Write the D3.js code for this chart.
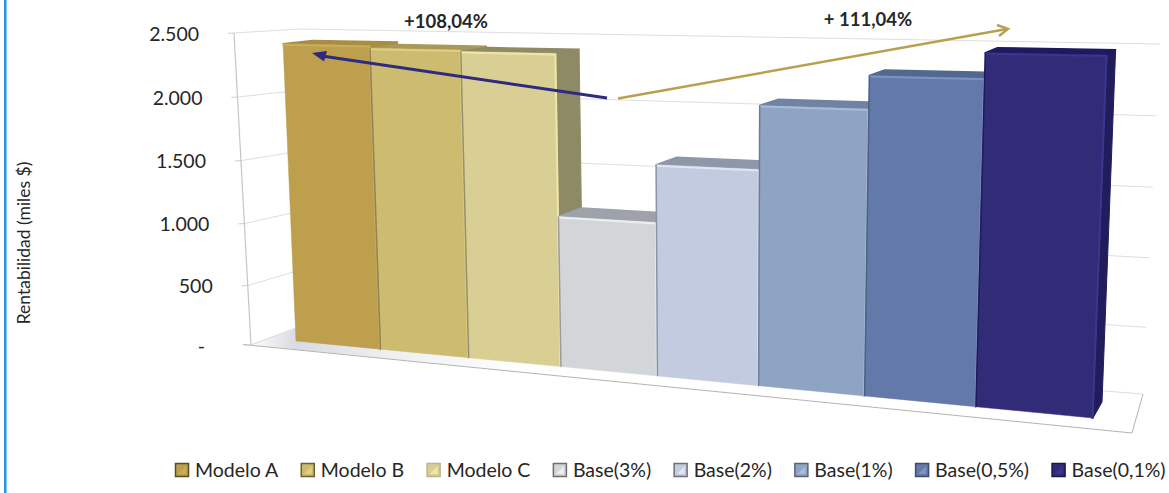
<!DOCTYPE html>
<html>
<head>
<meta charset="utf-8">
<script src="https://cdn.jsdelivr.net/npm/d3@7"></script>
<style>
  html, body { margin: 0; padding: 0; background: #fff; }
  svg { display: block; }
  text { font-family: Lato, "Open Sans", sans-serif; fill: #262626; }
</style>
</head>
<body>
<div id="chart"></div>
<script>
// Chart content
const categories = ["Modelo A", "Modelo B", "Modelo C", "Base(3%)", "Base(2%)", "Base(1%)", "Base(0,5%)", "Base(0,1%)"];
const values = [2400, 2380, 2370, 1154, 1580, 2035, 2265, 2435];
const tickValues = [0, 500, 1000, 1500, 2000, 2500];
const tickLabels = ["-", "500", "1.000", "1.500", "2.000", "2.500"];
const frontColors = ["#bd9f4e", "#cdbb6f", "#d9cf94", "#d3d6d8", "#c2cbdf", "#8fa3c2", "#6279a9", "#322c78"];
const topColors = ["#a88d44", "#a9985a", "#8f8a66", "#9ea2ab", "#8e97a8", "#6f83a3", "#52698f", "#1f1a60"];
const sideColors = ["#a88d44", "#a9985a", "#8f8a66", "#8d9097", "#8e97a8", "#6f83a3", "#52698f", "#211c5c"];
const lightEdges = ["#c9ae5c", "#e0cf7e", "#efe6a6", "#eceef0", "#dfe5f2", "#a9bbd6", "#7d93bf", "#3c358d"];
const darkEdges = ["#a38a45", "#8f8358", "#94906f", "#9a9c9c", "#8b93a6", "#6a7c98", "#4d6184", "#1f1a5c"];
const swatchEdges = ["#5b4c22", "#6a6233", "#b9b48a", "#6e6e6e", "#6e7078", "#5a6478", "#3f4d6a", "#1a1650"];
const axisTitle = "Rentabilidad (miles $)";
const leftNote = "+108,04%";
const rightNote = "+ 111,04%";

const W = 1169, H = 493;

// Domain scales: category slots across, profit upward, both normalised for the projection.
const slot = d3.scaleLinear().domain([0, categories.length]).range([0, 1]);
const profit = d3.scaleLinear().domain([0, 2500]).range([0, 1]);
// Walls recede slightly with height, so their ticks are spaced a little unevenly.
const wallProfit = d3.scalePow().exponent(1.03).domain([0, 2500]).range([0, 1]);

// Perspective map of the unit square on a quad given as [p00, p10, p11, p01].
function projective([p0, p1, p2, p3]) {
  const dx1 = p1[0] - p2[0], dx2 = p3[0] - p2[0], sx = p0[0] - p1[0] + p2[0] - p3[0];
  const dy1 = p1[1] - p2[1], dy2 = p3[1] - p2[1], sy = p0[1] - p1[1] + p2[1] - p3[1];
  const det = dx1 * dy2 - dx2 * dy1;
  const g = (sx * dy2 - dx2 * sy) / det;
  const h = (dx1 * sy - sx * dy1) / det;
  const a = p1[0] - p0[0] + g * p1[0], b = p3[0] - p0[0] + h * p3[0], c = p0[0];
  const d = p1[1] - p0[1] + g * p1[1], e = p3[1] - p0[1] + h * p3[1], f = p0[1];
  return (s, t) => {
    const w = g * s + h * t + 1;
    return [(a * s + b * t + c) / w, (d * s + e * t + f) / w];
  };
}

// Straight-edged map for the walls of the box.
function bilinear([p0, p1, p2, p3]) {
  return (s, t) => [0, 1].map(k =>
    (1 - t) * ((1 - s) * p0[k] + s * p1[k]) + t * ((1 - s) * p3[k] + s * p2[k]));
}

// Planes of the 3D box and of the bar block.
const barFront = projective([[296, 341], [1093, 418], [1107.4, 45], [282.5, 31]]);
const barBack = projective([[324, 330], [1102, 402], [1116, 40], [312, 28]]);
const backWall = bilinear([[296, 328], [1143, 394], [1160, 44], [300, 29]]);
const sideWall = bilinear([[251, 345], [296, 328], [300, 29], [234, 33]]);

const barPoint = (u, v, depth) => {
  const p = barFront(slot(u), profit(v)), q = barBack(slot(u), profit(v));
  return [p[0] + (q[0] - p[0]) * depth, p[1] + (q[1] - p[1]) * depth];
};
const poly = pts => "M" + pts.map(p => p.join(",")).join("L") + "Z";
const line = pts => "M" + pts.map(p => p.join(",")).join("L");

const svg = d3.select("#chart").append("svg").attr("width", W).attr("height", H);
const defs = svg.append("defs");

// Page frame on the left edge
svg.append("rect").attr("x", 4).attr("y", 0).attr("width", 2.5).attr("height", H).attr("fill", "#2094e6");

// Floor with a soft shadow around the first bar, fading out to the right
const floorFade = defs.append("linearGradient").attr("id", "floorFade")
  .attr("gradientUnits", "userSpaceOnUse").attr("x1", 250).attr("x2", 520).attr("y1", 0).attr("y2", 0);
[[0, "#ffffff"], [0.17, "#d9dae3"], [0.5, "#eeeef2"], [1, "#ffffff"]].forEach(([o, c]) =>
  floorFade.append("stop").attr("offset", o).attr("stop-color", c));
svg.append("path").attr("fill", "url(#floorFade)")
  .attr("d", poly([[251, 345], [1132, 433], [1143, 394], [296, 328]]));
svg.append("path").attr("fill", "none").attr("stroke", "#b4b4b0").attr("stroke-width", 1)
  .attr("d", line([[243, 344.5], [1132, 433], [1143, 394]]));
svg.append("path").attr("fill", "none").attr("stroke", "#e4e4e8").attr("stroke-width", 1)
  .attr("d", line([[251, 345], [296, 328]]));

// Gridlines run along the side wall and the back wall
const grid = svg.append("g").attr("fill", "none").attr("stroke", "#dedede").attr("stroke-width", 1);
tickValues.forEach(v => {
  const t = wallProfit(v);
  grid.append("path").attr("d", line([sideWall(0, t), sideWall(1, t)]));
  grid.append("path").attr("d", line([backWall(0, t), backWall(1, t)]));
  const a = sideWall(0, t);
  grid.append("path").attr("stroke", "#cfcfcf").attr("d", line([[a[0] - 6, a[1] + 0.3], a]));
});
svg.append("path").attr("fill", "none").attr("stroke", "#c6c6c6").attr("stroke-width", 1.2)
  .attr("d", line([sideWall(0, 1), sideWall(0, 0)]));

// Value axis labels follow the slanted front edge of the box
const yAxis = svg.append("g").attr("font-size", 19.5);
tickValues.forEach((v, i) => {
  const a = sideWall(0, wallProfit(v));
  yAxis.append("text")
    .attr("x", a[0] - (v === 0 ? 46 : 35))
    .attr("y", a[1] + 1)
    .attr("dy", "0.35em")
    .attr("text-anchor", "end")
    .text(tickLabels[i]);
});

svg.append("text")
  .attr("transform", "translate(24,243) rotate(-90)")
  .attr("text-anchor", "middle").attr("dy", "0.35em")
  .attr("font-size", 17.5)
  .text(axisTitle);

// Bars, painted from left to right so that each one covers the side of its neighbour
const bars = svg.append("g").selectAll("g").data(categories).join("g");
bars.each(function (name, i) {
  const g = d3.select(this), v = values[i];
  const fl = barPoint(i, v, 0), fr = barPoint(i + 1, v, 0);
  const bl = barPoint(i, v, 1), br = barPoint(i + 1, v, 1);
  const gl = barPoint(i, 0, 0), gr = barPoint(i + 1, 0, 0), gb = barPoint(i + 1, 0, 1);
  g.append("path").attr("d", poly([fr, br, gb, gr])).attr("fill", sideColors[i])
    .attr("stroke", sideColors[i]).attr("stroke-linejoin", "round");
  g.append("path").attr("d", poly([fl, bl, br, fr])).attr("fill", topColors[i])
    .attr("stroke", topColors[i]).attr("stroke-width", 1.5).attr("stroke-linejoin", "round");
  g.append("path").attr("d", poly([fl, fr, gr, gl])).attr("fill", frontColors[i])
    .attr("stroke", frontColors[i]).attr("stroke-width", 0.5);
  // Bevel highlights along the top and right edges, dark seam on the left
  g.append("path").attr("d", line([fl, fr, gr])).attr("fill", "none")
    .attr("stroke", lightEdges[i]).attr("stroke-width", 2).attr("transform", "translate(-0.5,1)");
  if (i > 0) {
    g.append("path").attr("d", line([fl, gl])).attr("fill", "none")
      .attr("stroke", darkEdges[i]).attr("stroke-width", 1.5);
  }
});

// Comparison arrows and their percentages
const navy = "#2e2a80", gold = "#b9a04f";
svg.append("line").attr("x1", 607).attr("y1", 98).attr("x2", 322).attr("y2", 56)
  .attr("stroke", navy).attr("stroke-width", 3);
svg.append("path").attr("fill", navy).attr("d", poly([[312, 53], [327, 51], [324, 61.5]]));
svg.append("line").attr("x1", 618).attr("y1", 98.5).attr("x2", 1007).attr("y2", 29)
  .attr("stroke", gold).attr("stroke-width", 2.5);
svg.append("path").attr("fill", "none").attr("stroke", gold).attr("stroke-width", 2.5)
  .attr("d", line([[997, 25], [1008, 29], [999, 36]]));

svg.append("text").attr("x", 446).attr("y", 22).attr("dy", "0.35em").attr("text-anchor", "middle")
  .attr("font-size", 18.5).attr("font-weight", 700).text(leftNote);
svg.append("text").attr("x", 868).attr("y", 20).attr("dy", "0.35em").attr("text-anchor", "middle")
  .attr("font-size", 18.5).attr("font-weight", 700).text(rightNote);

// Legend, flowed from its left end
const legend = svg.append("g").attr("font-size", 19.5);
let cursor = 175;
categories.forEach((name, i) => {
  const item = legend.append("g").attr("transform", `translate(${cursor},463)`);
  item.append("rect").attr("x", 0.5).attr("y", 0.5).attr("width", 13).attr("height", 13)
    .attr("fill", frontColors[i]).attr("stroke", swatchEdges[i]).attr("stroke-width", 1.5);
  item.append("path").attr("fill", lightEdges[i]).attr("d", "M3,11L11,3L11,11Z");
  const label = item.append("text").attr("x", 20).attr("y", 7.5).attr("dy", "0.35em").text(name);
  cursor += 20 + label.node().getComputedTextLength() + 22.5;
});
</script>
</body>
</html>
